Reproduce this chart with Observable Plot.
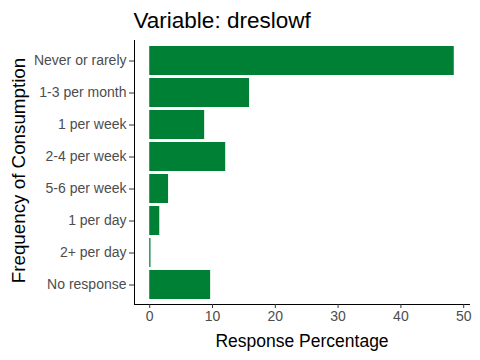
<!DOCTYPE html>
<html>
<head>
<meta charset="utf-8">
<script src="https://cdn.jsdelivr.net/npm/d3@7"></script>
<script src="https://cdn.jsdelivr.net/npm/@observablehq/plot@0.6"></script>
<style>
  body { margin: 0; background: #fff; }
  svg { font-family: "Liberation Sans", Arial, sans-serif; }
</style>
</head>
<body>
<div id="chart"></div>
<script>
const title = "Variable: dreslowf";
const categories = ["Never or rarely", "1-3 per month", "1 per week", "2-4 per week", "5-6 per week", "1 per day", "2+ per day", "No response"];
const values = [48.5, 15.9, 8.75, 12.1, 3.0, 1.6, 0.2, 9.7];
const xTicks = [0, 10, 20, 30, 40, 50];
const xLabel = "Response Percentage";
const yLabel = "Frequency of Consumption";

const data = categories.map((c, i) => ({cat: c, val: values[i]}));
const maxV = d3.max(values);
const pad = maxV * 0.05;
const font = "'Liberation Sans', Arial, sans-serif";

const chart = Plot.plot({
  width: 480,
  height: 360,
  marginTop: 40,
  marginBottom: 56,
  marginLeft: 134,
  marginRight: 11,
  style: {fontFamily: font, background: "#fff"},
  x: {domain: [-pad, maxV + pad]},
  y: {domain: categories, paddingInner: 0.1, paddingOuter: 0.15},
  marks: [
    Plot.barX(data, {x1: 0, x2: "val", y: "cat", fill: "#008035"}),
    Plot.frame({anchor: "bottom", stroke: "#000", strokeWidth: 1}),
    Plot.frame({anchor: "left", stroke: "#000", strokeWidth: 1}),
    Plot.axisX({ticks: xTicks, tickFormat: d => String(d), tickSize: 4, tickPadding: 3, stroke: "#333",
      fill: "#4d4d4d", fontSize: 14, label: null}),
    Plot.axisY({tickSize: 5, tickPadding: 3, stroke: "#333", fill: "#4d4d4d", fontSize: 14, label: null}),
    Plot.text([xLabel], {frameAnchor: "bottom", dy: 42, lineAnchor: "bottom", fontSize: 17.5, fill: "#000"}),
    Plot.text([yLabel], {frameAnchor: "left", dx: -116, dy: -2, rotate: -90, lineAnchor: "middle", textAnchor: "middle", fontSize: 18.8, fill: "#000"}),
    Plot.text([title], {frameAnchor: "top-left", dx: -1, dy: -13, fontSize: 22.5, fill: "#000", textAnchor: "start", lineAnchor: "bottom"})
  ]
});
document.getElementById("chart").appendChild(chart);
</script>
</body>
</html>
